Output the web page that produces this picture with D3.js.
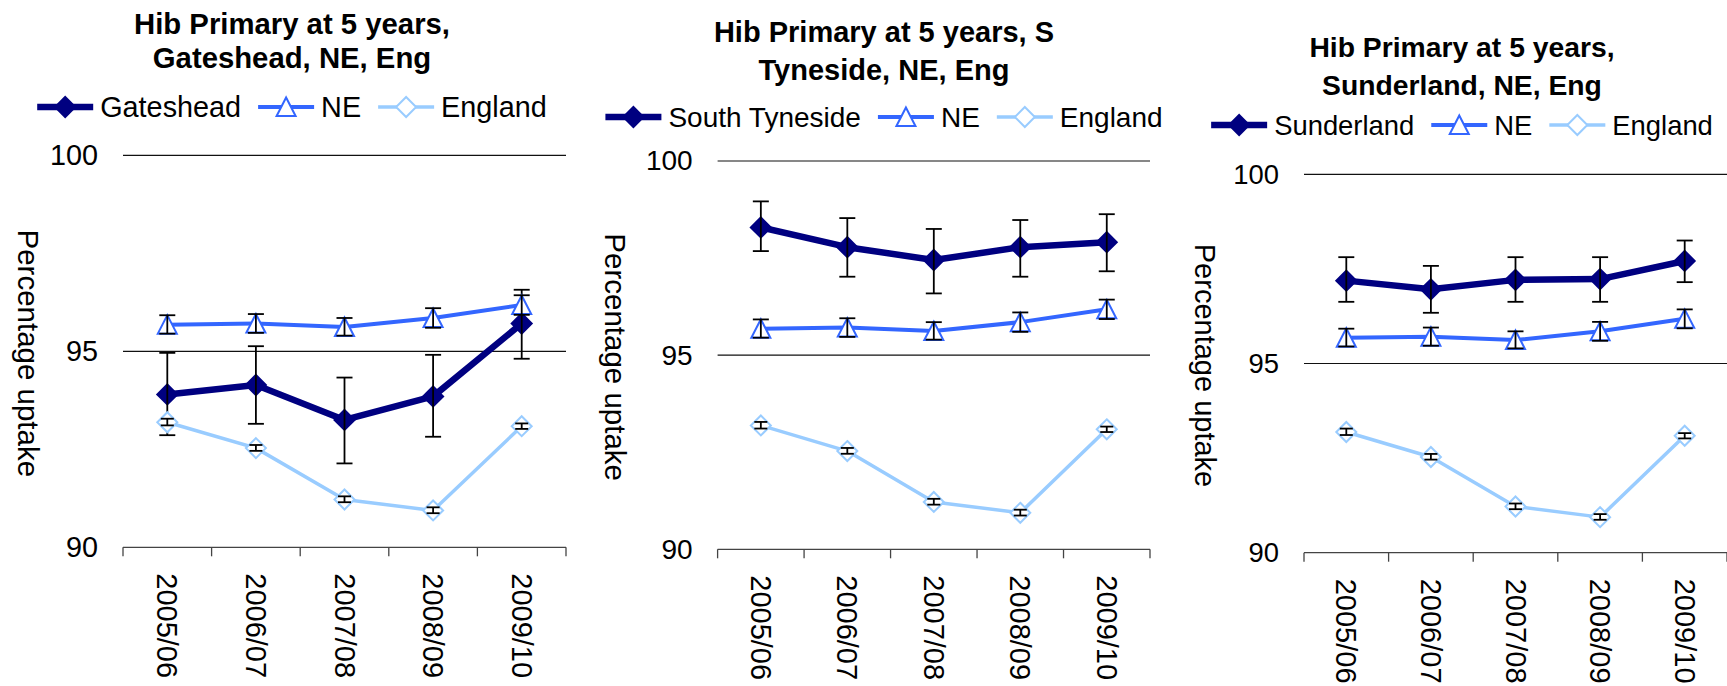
<!DOCTYPE html>
<html>
<head>
<meta charset="utf-8">
<script src="https://cdn.jsdelivr.net/npm/d3@7"></script>
<style>
  body { margin: 0; background: #fff; }
  svg { display: block; }
  text { font-family: "Liberation Sans", Arial, Helvetica, sans-serif; fill: #000; }
</style>
</head>
<body>
<svg id="chart" width="1727" height="686"></svg>
<script>
// ---------------- DATA ----------------
const categories = ["2005/06", "2006/07", "2007/08", "2008/09", "2009/10"];
const yTicks = [90, 95, 100];

const gatesheadValues = [93.90, 94.14, 93.25, 93.85, 95.71];
const gatesheadLower  = [92.86, 93.15, 92.14, 92.82, 94.81];
const gatesheadUpper  = [94.96, 95.13, 94.33, 94.91, 96.57];

const southTynesideValues = [98.29, 97.78, 97.45, 97.78, 97.91];
const southTynesideLower  = [97.68, 97.02, 96.59, 97.02, 97.16];
const southTynesideUpper  = [98.96, 98.53, 98.25, 98.48, 98.63];

const sunderlandValues = [97.19, 96.96, 97.21, 97.23, 97.71];
const sunderlandLower  = [96.63, 96.34, 96.63, 96.63, 97.15];
const sunderlandUpper  = [97.81, 97.58, 97.81, 97.81, 98.25];

const neValues = [95.68, 95.71, 95.62, 95.85, 96.18];
const neLower  = [95.45, 95.47, 95.40, 95.60, 95.93];
const neUpper  = [95.92, 95.95, 95.85, 96.10, 96.43];

const englandValues = [93.19, 92.53, 91.22, 90.94, 93.09];
const englandLower  = [93.11, 92.46, 91.15, 90.87, 93.02];
const englandUpper  = [93.28, 92.61, 91.30, 91.02, 93.16];

const titleGateshead = ["Hib Primary at 5 years,", "Gateshead, NE, Eng"];
const titleSouthTyneside = ["Hib Primary at 5 years, S", "Tyneside, NE, Eng"];
const titleSunderland = ["Hib Primary at 5 years,", "Sunderland, NE, Eng"];
const yAxisTitle = "Percentage uptake";

// ---------------- STYLES ----------------
const styles = {
  local:   { color: "#000080", width: 6.5, marker: "diamond", fill: "#000080", cap: 8 },
  ne:      { color: "#3366FF", width: 4,   marker: "triangle", fill: "#fff", cap: 8 },
  england: { color: "#99CCFF", width: 3.5, marker: "diamond", fill: "#fff", cap: 6.5 }
};

// ---------------- LAYOUT ----------------
const panels = [
  { title: titleGateshead, localName: "Gateshead",
    values: gatesheadValues, lower: gatesheadLower, upper: gatesheadUpper,
    x0: 123, x1: 566, yTop: 155.3, yBot: 547.3, cx: 292, tb: [34, 68], legY: 107, yTitleX: 28,
    fs: 28.8, tfs: 29.3, yfs: 29.5 },
  { title: titleSouthTyneside, localName: "South Tyneside",
    values: southTynesideValues, lower: southTynesideLower, upper: southTynesideUpper,
    x0: 717.6, x1: 1150, yTop: 161, yBot: 549.3, cx: 884, tb: [41.5, 80], legY: 117, yTitleX: 615,
    fs: 28, tfs: 29, yfs: 29.5 },
  { title: titleSunderland, localName: "Sunderland",
    values: sunderlandValues, lower: sunderlandLower, upper: sunderlandUpper,
    x0: 1304, x1: 1727, yTop: 174.3, yBot: 552.7, cx: 1462, tb: [56.5, 95], legY: 125, yTitleX: 1205,
    fs: 27.4, tfs: 28.3, yfs: 29 }
];

const svg = d3.select("#chart");

function markerPath(type) {
  if (type === "diamond") return "M0,-10L10,0L0,10L-10,0Z";
  return "M0,-9.5L9.5,9L-9.5,9Z";
}

function drawPanel(p) {
  const g = svg.append("g");
  const x = d3.scaleBand().domain(categories).range([p.x0, p.x1]).padding(0);
  const y = d3.scaleLinear().domain([90, 100]).range([p.yBot, p.yTop]);
  const cxOf = c => x(c) + x.bandwidth() / 2;

  // gridlines
  g.append("g").selectAll("line").data(yTicks.filter(t => t !== 90)).join("line")
    .attr("x1", p.x0).attr("x2", p.x1)
    .attr("y1", d => y(d)).attr("y2", d => y(d))
    .attr("stroke", "#111").attr("stroke-width", 1.2);

  // y axis labels
  const ya = g.append("g").attr("transform", `translate(${p.x0},0)`)
    .call(d3.axisLeft(y).tickValues(yTicks).tickSize(0).tickPadding(25).tickFormat(d3.format("d")));
  ya.select(".domain").remove();
  ya.attr("font-family", null).attr("font-size", null);
  ya.selectAll("text").style("font-size", p.fs + "px").attr("fill", "#000");

  // x axis
  const xa = g.append("g").attr("transform", `translate(0,${p.yBot})`)
    .call(d3.axisBottom(x).tickSize(0).tickPadding(0));
  xa.attr("font-family", null).attr("font-size", null);
  xa.select(".domain").attr("stroke", "#444").attr("stroke-width", 1.3)
    .attr("d", `M${p.x0},0H${p.x1}`);
  xa.selectAll(".tick text")
    .attr("y", null).attr("dy", null)
    .attr("transform", "translate(0,26) rotate(90)")
    .attr("text-anchor", "start")
    .attr("dominant-baseline", "central")
    .style("font-size", "29px").attr("fill", "#000");
  const bounds = categories.map(c => x(c)).concat([p.x1]);
  xa.append("g").selectAll("line").data(bounds).join("line")
    .attr("x1", d => d).attr("x2", d => d).attr("y1", 0).attr("y2", 9)
    .attr("stroke", "#444").attr("stroke-width", 1.3);

  // y axis title
  const ym = (p.yTop + p.yBot) / 2 + 2;
  g.append("text").attr("transform", `translate(${p.yTitleX},${ym}) rotate(90)`)
    .attr("text-anchor", "middle").attr("dominant-baseline", "central")
    .style("font-size", p.yfs + "px").text(yAxisTitle);

  // series
  const series = [
    { name: p.localName, st: styles.local, v: p.values, lo: p.lower, hi: p.upper },
    { name: "NE", st: styles.ne, v: neValues, lo: neLower, hi: neUpper },
    { name: "England", st: styles.england, v: englandValues, lo: englandLower, hi: englandUpper }
  ];
  const line = d3.line().x((d, i) => cxOf(categories[i])).y(d => y(d));
  series.forEach(s => {
    const sg = g.append("g");
    sg.append("path").attr("d", line(s.v)).attr("fill", "none")
      .attr("stroke", s.st.color).attr("stroke-width", s.st.width).attr("stroke-linejoin", "round");
    sg.selectAll("path.m").data(s.v).join("path").attr("class", "m")
      .attr("d", markerPath(s.st.marker))
      .attr("transform", (d, i) => `translate(${cxOf(categories[i])},${y(d)})`)
      .attr("fill", s.st.fill).attr("stroke", s.st.color).attr("stroke-width", 2);
    const eb = sg.selectAll("g.eb").data(s.v).join("g").attr("class", "eb");
    eb.each(function(d, i) {
      const e = d3.select(this);
      const cx = cxOf(categories[i]);
      const yl = y(s.lo[i]), yh = y(s.hi[i]);
      e.append("line").attr("x1", cx).attr("x2", cx).attr("y1", yl).attr("y2", yh);
      e.append("line").attr("x1", cx - s.st.cap).attr("x2", cx + s.st.cap).attr("y1", yl).attr("y2", yl);
      e.append("line").attr("x1", cx - s.st.cap).attr("x2", cx + s.st.cap).attr("y1", yh).attr("y2", yh);
      e.selectAll("line").attr("stroke", "#000").attr("stroke-width", 1.8);
    });
  });

  // title
  p.title.forEach((t, i) => {
    g.append("text").attr("x", p.cx).attr("y", p.tb[i]).attr("text-anchor", "middle")
      .style("font-size", p.tfs + "px").style("font-weight", "bold").text(t);
  });

  // legend
  const lg = g.append("g");
  let cur = 0;
  series.forEach((s, i) => {
    const it = lg.append("g").attr("transform", `translate(${cur},0)`);
    it.append("line").attr("x1", 0).attr("x2", 56).attr("y1", 0).attr("y2", 0)
      .attr("stroke", s.st.color).attr("stroke-width", s.st.width);
    it.append("path").attr("d", markerPath(s.st.marker)).attr("transform", "translate(28,0)")
      .attr("fill", s.st.fill).attr("stroke", s.st.color).attr("stroke-width", 2);
    const tx = it.append("text").attr("x", 63).attr("y", 0).attr("dominant-baseline", "central")
      .style("font-size", p.fs + "px").text(s.name);
    const w = tx.node().getComputedTextLength();
    cur += 63 + w + (i < series.length - 1 ? 17 : 0);
  });
  lg.attr("transform", `translate(${p.cx - cur / 2},${p.legY})`);
}

panels.forEach(drawPanel);
</script>
</body>
</html>
